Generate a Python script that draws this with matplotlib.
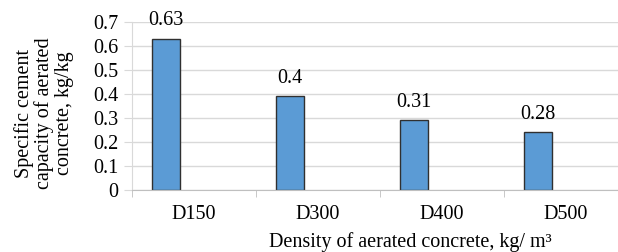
import matplotlib.pyplot as plt
import numpy as np

categories = ["D150", "D300", "D400", "D500"]
bar_values = [0.63, 0.39, 0.29, 0.24]
label_texts = ["0.63", "0.4", "0.31", "0.28"]
y_ticks = [0, 0.1, 0.2, 0.3, 0.4, 0.5, 0.6, 0.7]
y_tick_labels = ["0", "0.1", "0.2", "0.3", "0.4", "0.5", "0.6", "0.7"]

plt.rcParams["font.family"] = ["Liberation Serif", "DejaVu Serif"]
FS = 14.5
GRID = "#d9d9d9"
AXIS = "#bfbfbf"

fig = plt.figure(figsize=(6.18, 2.52), dpi=100)
ax = fig.add_axes([132 / 618, 62 / 252, 496 / 618, 168 / 252])

x = np.arange(len(categories))
bw = 0.226
bars = ax.bar(x - 0.113 - bw / 2, bar_values, width=bw, color="#5b9bd5",
              edgecolor="#303030", linewidth=1.0, zorder=3)

for b, t in zip(bars, label_texts):
    ax.annotate(t, (b.get_x() + b.get_width() / 2, b.get_height()),
                xytext=(0, 6), textcoords="offset points",
                ha="center", va="bottom", fontsize=FS, zorder=4)

ax.set_xlim(-0.5, len(categories) - 0.5)
ax.set_ylim(0, 0.7)
ax.set_yticks(y_ticks)
ax.set_yticklabels(y_tick_labels, fontsize=FS)
ax.set_xticks(x)
ax.set_xticklabels(categories, fontsize=FS)
ax.set_xticks(np.arange(len(categories) + 1) - 0.5, minor=True)

ax.grid(axis="y", color=GRID, linewidth=1.0, zorder=0)
ax.tick_params(axis="y", length=6, color=GRID, pad=4)
ax.tick_params(axis="x", which="major", length=0, pad=11)
ax.tick_params(axis="x", which="minor", length=5, color=AXIS)

for s in ["top", "right"]:
    ax.spines[s].set_visible(False)
ax.spines["left"].set_color(GRID)
ax.spines["bottom"].set_color(AXIS)
ax.spines["bottom"].set_zorder(5)

fig.text(44 / 618, 139 / 252,
         "Specific cement\ncapacity of aerated\nconcrete, kg/kg",
         rotation=90, ha="center", va="center", fontsize=FS, linespacing=1.05)
fig.text(410 / 618, 5 / 252, "Density of aerated concrete, kg/ m\u00b3",
         ha="center", va="baseline", fontsize=FS)

fig.savefig("out.png", dpi=100)
